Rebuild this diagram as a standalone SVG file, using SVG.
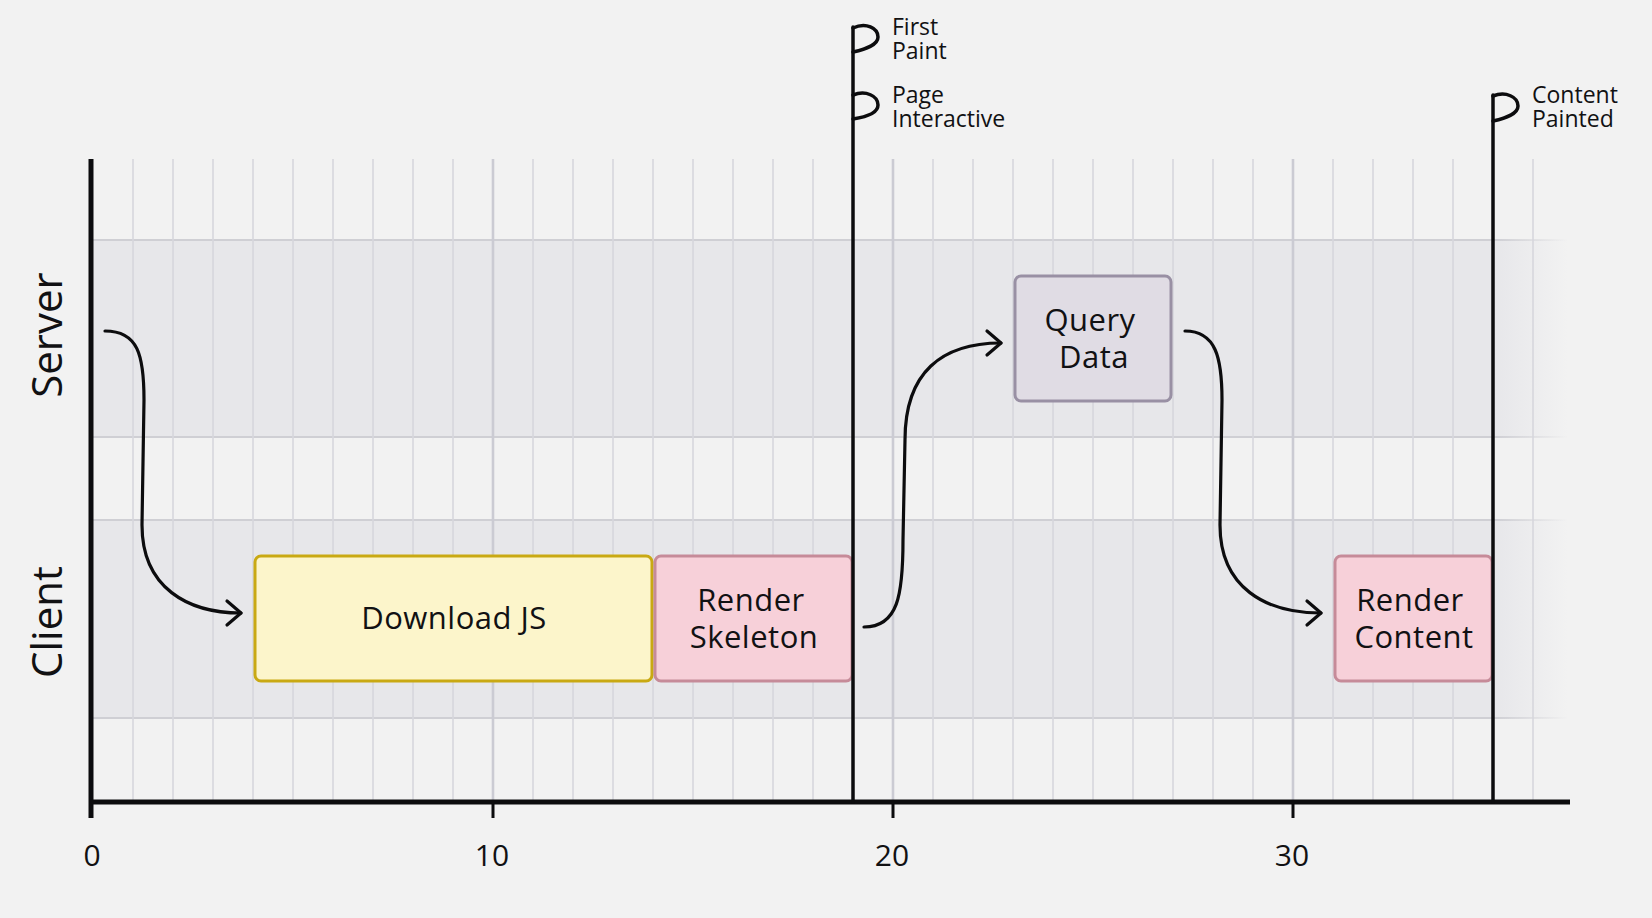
<svg xmlns="http://www.w3.org/2000/svg" width="1652" height="918" viewBox="0 0 1652 918">
<style>
.bg{fill:#f2f2f2}
.grid{stroke:#d6d6dd;stroke-width:1.6;fill:none}
.gridmajor{stroke:#cbcbd3;stroke-width:2.6;fill:none}
.axis{stroke:#0c0c0e;stroke-width:5;fill:none;stroke-linecap:butt}
.tick{stroke:#0c0c0e;stroke-width:3;fill:none}
.flag{stroke:#0c0c0e;stroke-width:3.5;fill:none;stroke-linecap:round;stroke-linejoin:round}
.conn{stroke:#0c0c0e;stroke-width:3.2;fill:none;stroke-linecap:round;stroke-linejoin:round}
.lbl{font-family:"Open Sans","Noto Sans","Liberation Sans",sans-serif;fill:#111113}
.lane{font-size:42px}
.node{font-size:31px;letter-spacing:0.5px}
.num{font-size:30px}
.mark{font-size:23px}
</style>
<defs>
<linearGradient id="bandFill" gradientUnits="userSpaceOnUse" x1="93" y1="0" x2="1568" y2="0">
<stop offset="0" stop-color="#e7e7ea"/>
<stop offset="0.95" stop-color="#e7e7ea"/>
<stop offset="1" stop-color="#e7e7ea" stop-opacity="0"/>
</linearGradient>
<linearGradient id="bandLine" gradientUnits="userSpaceOnUse" x1="93" y1="0" x2="1568" y2="0">
<stop offset="0" stop-color="#cfcfd4"/>
<stop offset="0.95" stop-color="#cfcfd4"/>
<stop offset="1" stop-color="#cfcfd4" stop-opacity="0"/>
</linearGradient>
<marker id="arrow" viewBox="0 0 20 30" refX="17" refY="15" markerWidth="20" markerHeight="30" markerUnits="userSpaceOnUse" orient="auto">
<path d="M3,3 L17,15 L3,27" fill="none" stroke="#0c0c0e" stroke-width="3.2" stroke-linecap="round" stroke-linejoin="round"/>
</marker>
</defs>
<rect class="bg" x="0" y="0" width="1652" height="918"/>
<g id="lanes">
<rect x="93" y="240" width="1475" height="197" fill="url(#bandFill)"/>
<rect x="93" y="520" width="1475" height="198" fill="url(#bandFill)"/>
<path d="M93,240H1568M93,437H1568M93,520H1568M93,718H1568" stroke="url(#bandLine)" stroke-width="2" fill="none"/>
</g>
<g id="grid">
<path class="grid" d="M133,159V800M173,159V800M213,159V800M253,159V800M293,159V800M333,159V800M373,159V800M413,159V800M453,159V800M533,159V800M573,159V800M613,159V800M653,159V800M693,159V800M733,159V800M773,159V800M813,159V800M933,159V800M973,159V800M1013,159V800M1053,159V800M1093,159V800M1133,159V800M1173,159V800M1213,159V800M1253,159V800M1333,159V800M1373,159V800M1413,159V800M1453,159V800M1533,159V800"/>
<path class="gridmajor" d="M493,159V800M893,159V800M1293,159V800"/>
</g>
<g id="lane-labels">
<text class="lbl lane" text-anchor="middle" transform="translate(62,335) rotate(-90)">Server</text>
<text class="lbl lane" text-anchor="middle" transform="translate(62,622) rotate(-90)">Client</text>
</g>
<g id="axes">
<path class="axis" d="M91,159V818"/>
<path class="axis" d="M89,802H1570"/>
<path class="tick" d="M493,802V818M893,802V818M1293,802V818"/>
<text class="lbl num" x="92" y="866" text-anchor="middle">0</text>
<text class="lbl num" x="492" y="866" text-anchor="middle">10</text>
<text class="lbl num" x="892" y="866" text-anchor="middle">20</text>
<text class="lbl num" x="1292" y="866" text-anchor="middle">30</text>
</g>
<g id="node-download-js">
<rect x="255" y="556" width="397" height="125" rx="6" fill="#fcf5cb" stroke="#c9a913" stroke-width="3"/>
<text class="lbl node" x="454" y="629" text-anchor="middle">Download JS</text>
</g>
<g id="node-render-skeleton">
<rect x="655" y="556" width="197" height="125" rx="6" fill="#f7d0d9" stroke="#c68b99" stroke-width="3"/>
<text class="lbl node" x="751" y="611" text-anchor="middle">Render</text>
<text class="lbl node" x="754" y="648" text-anchor="middle">Skeleton</text>
</g>
<g id="node-query-data">
<rect x="1015" y="276" width="156" height="125" rx="6" fill="#e0dce4" stroke="#9990a4" stroke-width="3"/>
<text class="lbl node" x="1090" y="331" text-anchor="middle">Query</text>
<text class="lbl node" x="1094" y="368" text-anchor="middle">Data</text>
</g>
<g id="node-render-content">
<rect x="1335" y="556" width="157" height="125" rx="6" fill="#f7d0d9" stroke="#c68b99" stroke-width="3"/>
<text class="lbl node" x="1410" y="611" text-anchor="middle">Render</text>
<text class="lbl node" x="1414" y="648" text-anchor="middle">Content</text>
</g>
<g id="marker-first-paint">
<path class="flag" d="M853,802V27"/>
<path class="flag" d="M853,28C866,22 878,28 878,37C878,45 866,49 853,52"/>
<path class="flag" d="M853,95C866,90 878,96 878,105C878,113 866,117 853,119"/>
<text class="lbl mark" x="892" y="35">First</text>
<text class="lbl mark" x="892" y="59">Paint</text>
<text class="lbl mark" x="892" y="103">Page</text>
<text class="lbl mark" x="892" y="127">Interactive</text>
</g>
<g id="marker-content-painted">
<path class="flag" d="M1493,802V95"/>
<path class="flag" d="M1493,96C1506,91 1518,97 1518,106C1518,114 1506,118 1493,121"/>
<text class="lbl mark" x="1532" y="103">Content</text>
<text class="lbl mark" x="1532" y="127">Painted</text>
</g>
<g id="connectors">
<path class="conn" marker-end="url(#arrow)" d="M105,331C138,331 144,355 144,400L142,525C142,588 188,613 241,613"/>
<path class="conn" marker-end="url(#arrow)" d="M864,627C898,627 903,595 903,540L905,440C905,372 942,343 1001,343"/>
<path class="conn" marker-end="url(#arrow)" d="M1185,331C1216,331 1222,358 1222,400L1220,525C1220,588 1266,613 1321,613"/>
</g>
</svg>
